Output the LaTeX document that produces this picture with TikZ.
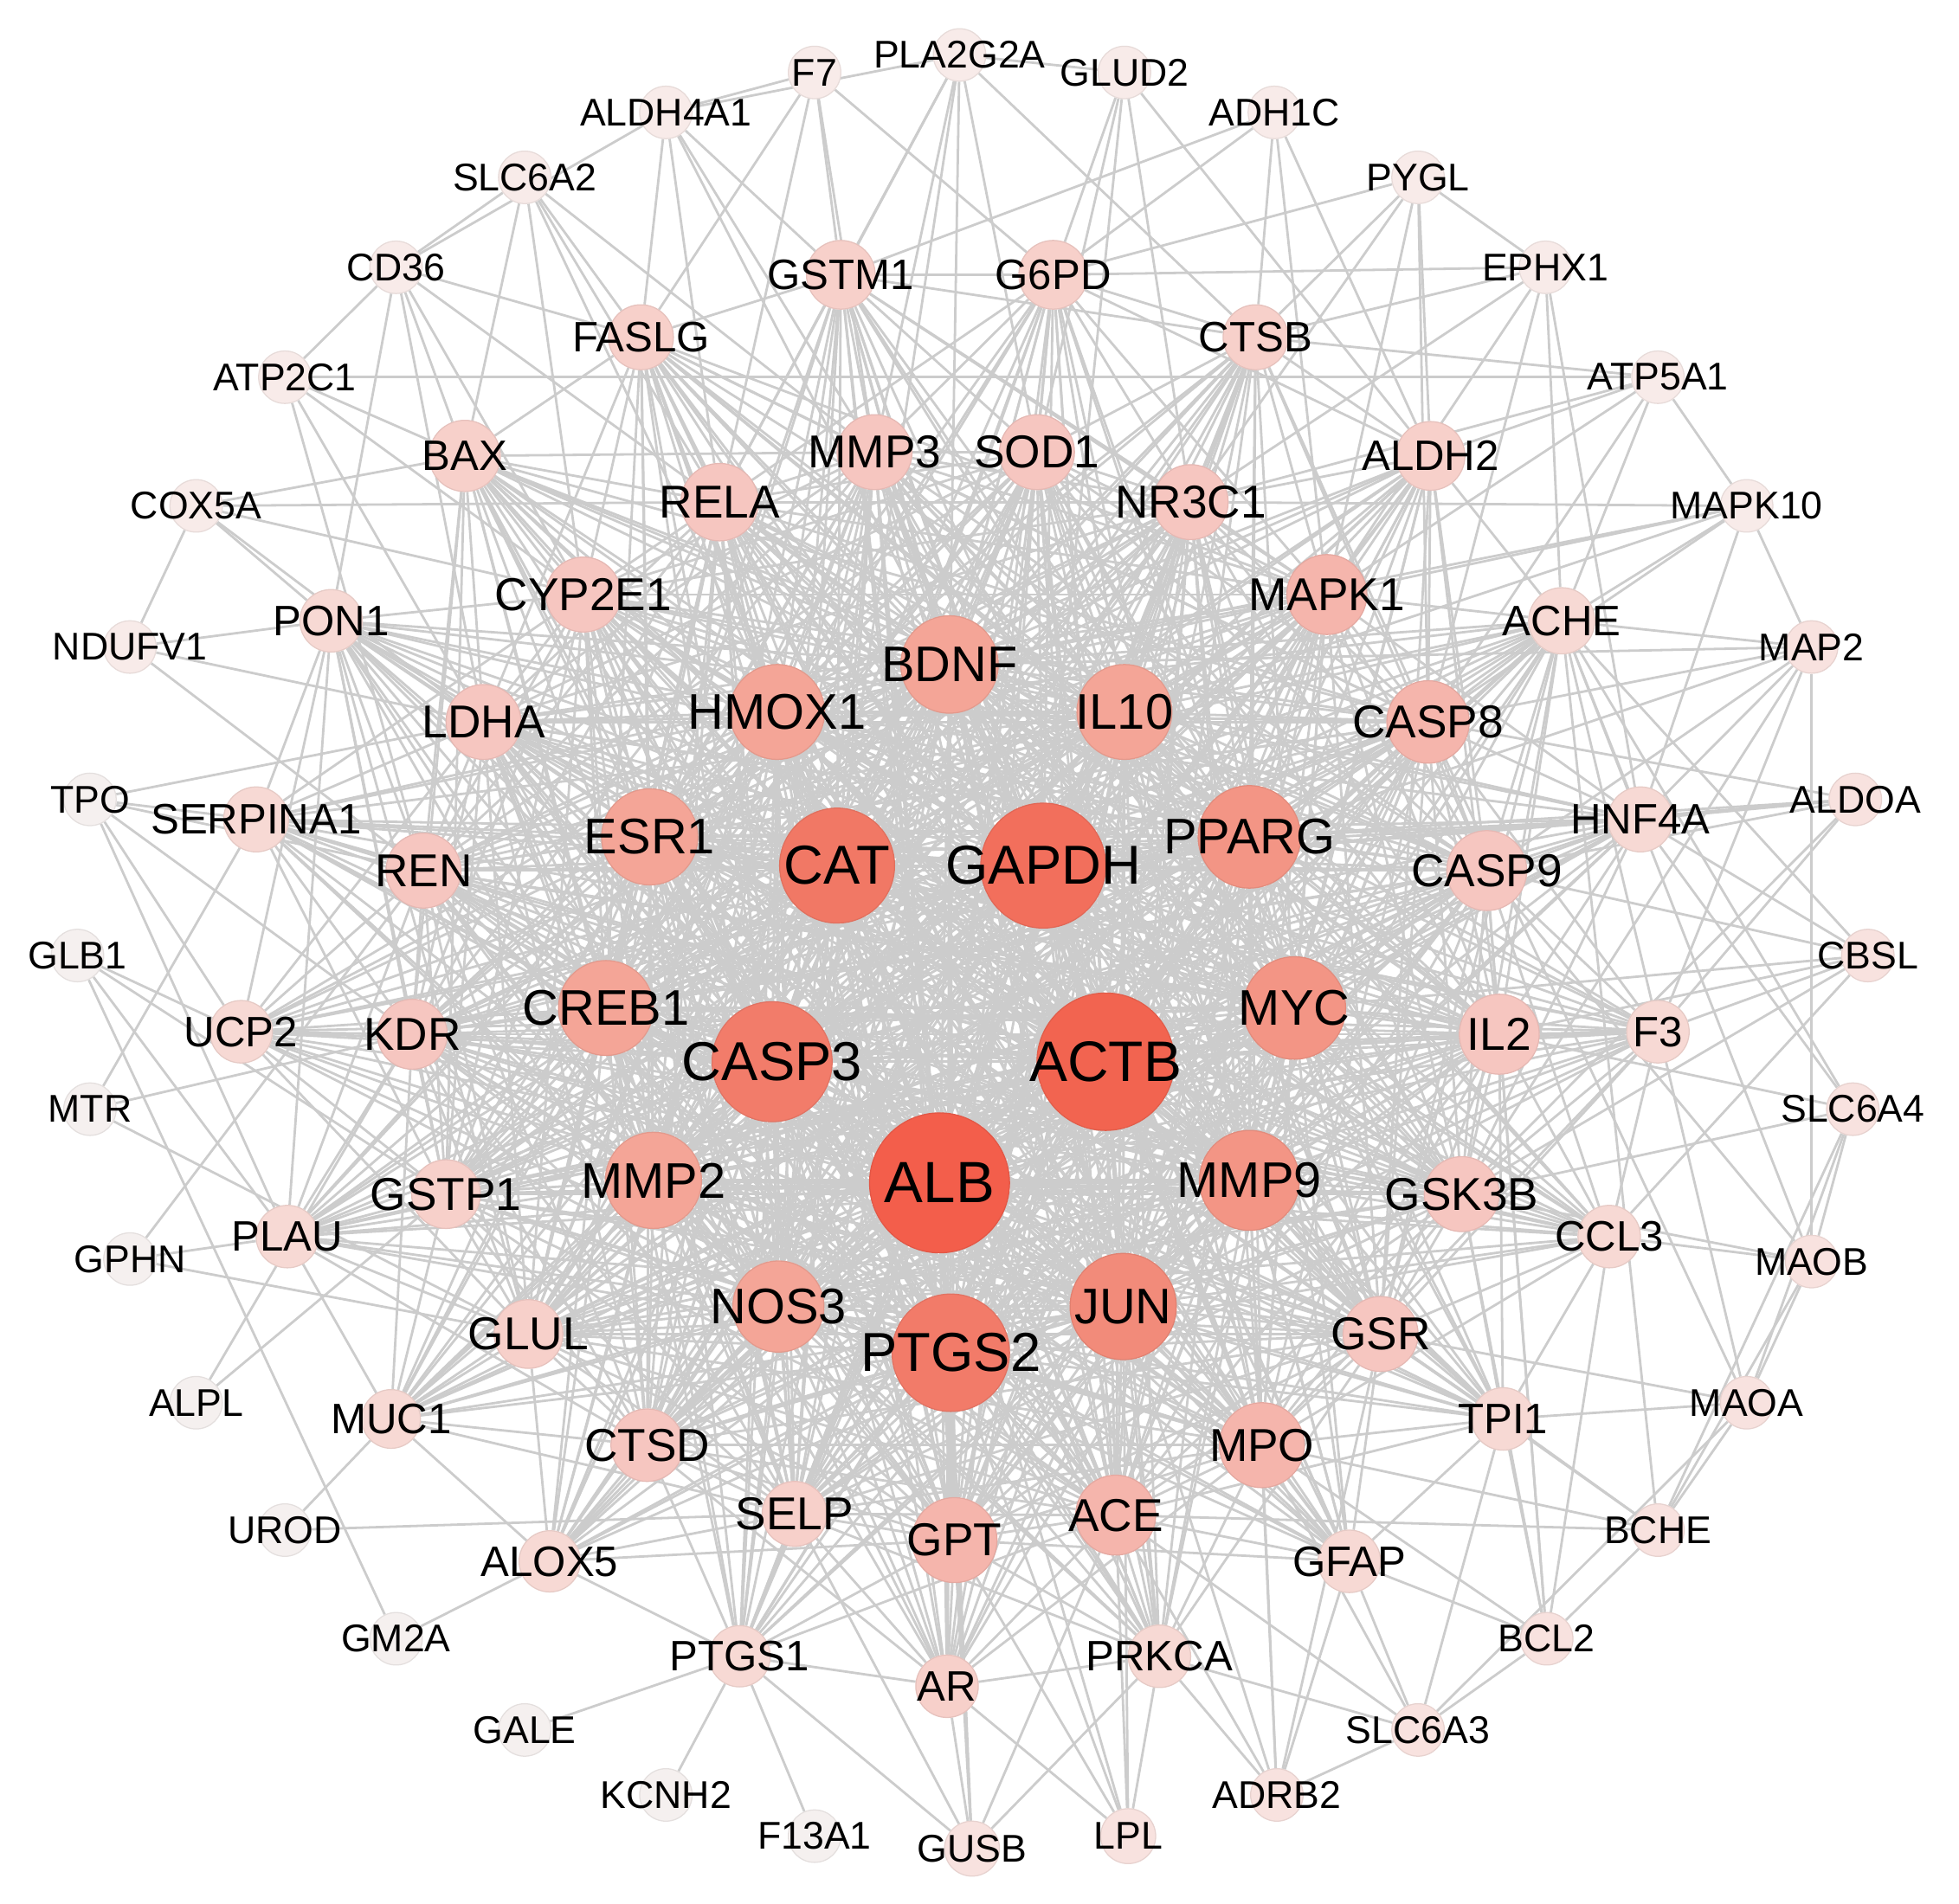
\documentclass[tikz,border=0pt]{standalone}
\usepackage{fontspec}
\setmainfont{Liberation Sans}
\pgfdeclarelayer{paper}
\pgfdeclarelayer{edges}
\pgfsetlayers{paper,edges,main}
\definecolor{edgegray}{HTML}{CCCCCC}
\definecolor{oA}{HTML}{F5F0EF}
\definecolor{oB}{HTML}{F8EBE9}
\definecolor{oC}{HTML}{F8E2DF}
\definecolor{sA}{HTML}{F7D9D4}
\definecolor{sB}{HTML}{F7D0CA}
\definecolor{tA}{HTML}{F6C6C0}
\definecolor{tB}{HTML}{F5B5AC}
\definecolor{tC}{HTML}{F7D0CA}
\definecolor{iA}{HTML}{F4A597}
\definecolor{iB}{HTML}{F39585}
\definecolor{iC}{HTML}{F28B7A}
\definecolor{kCAT}{HTML}{F17865}
\definecolor{kGAPDH}{HTML}{F26F5C}
\definecolor{kCASP}{HTML}{F27C6A}
\definecolor{kACTB}{HTML}{F26450}
\definecolor{kALB}{HTML}{F35E4B}
\definecolor{kPTGS}{HTML}{F27B69}
\tikzset{
  gene/.style={circle, inner sep=0pt, line width=0.5pt},
  edge/.style={draw=edgegray, line width=1.1pt},
}
\newcommand\genenode[6]{\node[gene, minimum size=#4*0.02cm, fill=#5, draw=#5!93!black,
  label={[text=black, inner sep=0pt, font=\fontsize{#6pt}{#6pt}\selectfont]center:#1}] (#1) at (#2,#3) {};}
\newcommand\corelist{ALB,ACTB,GAPDH,CAT,CASP3,PTGS2}
\newcommand\innerlist{BDNF,HMOX1,IL10,ESR1,PPARG,CREB1,MYC,MMP2,MMP9,NOS3,JUN}
\newcommand\thirdlist{MMP3,SOD1,RELA,NR3C1,CYP2E1,MAPK1,LDHA,CASP8,REN,CASP9,KDR,IL2,GSTP1,GSK3B,GLUL,GSR,CTSD,MPO,SELP,GPT,ACE}
\newcommand\secondlist{GSTM1,G6PD,FASLG,CTSB,BAX,ALDH2,PON1,ACHE,SERPINA1,HNF4A,UCP2,F3,PLAU,CCL3,MUC1,TPI1,ALOX5,GFAP,PTGS1,PRKCA,AR}
\begin{document}
\begin{tikzpicture}[x=0.02cm,y=-0.02cm]
\begin{pgfonlayer}{paper}
\fill[white] (0,0) rectangle (1568,1524);
\end{pgfonlayer}
\useasboundingbox (0,0) rectangle (1568,1524);
% outer ring
\genenode{F7}{652}{58}{42}{oB}{17.6}
\genenode{PLA2G2A}{768}{44}{42}{oB}{17.6}
\genenode{GLUD2}{900}{58}{42}{oB}{17.6}
\genenode{ALDH4A1}{533}{90}{42}{oB}{17.6}
\genenode{ADH1C}{1020}{90}{42}{oB}{17.6}
\genenode{SLC6A2}{420}{142}{42}{oB}{17.6}
\genenode{PYGL}{1135}{142}{42}{oB}{17.6}
\genenode{CD36}{317}{214}{42}{oB}{17.6}
\genenode{EPHX1}{1237}{214}{42}{oB}{17.6}
\genenode{ATP2C1}{228}{302}{42}{oB}{17.6}
\genenode{ATP5A1}{1327}{302}{42}{oB}{17.6}
\genenode{COX5A}{157}{405}{42}{oB}{17.6}
\genenode{MAPK10}{1398}{405}{42}{oB}{17.6}
\genenode{NDUFV1}{104}{518}{42}{oB}{17.6}
\genenode{MAP2}{1450}{518}{42}{oC}{17.6}
\genenode{TPO}{72}{640}{42}{oA}{17.6}
\genenode{ALDOA}{1485}{640}{42}{oC}{17.6}
\genenode{GLB1}{62}{765}{42}{oA}{17.6}
\genenode{CBSL}{1495}{765}{42}{oC}{17.6}
\genenode{MTR}{72}{888}{42}{oA}{17.6}
\genenode{SLC6A4}{1483}{888}{42}{oC}{17.6}
\genenode{GPHN}{104}{1008}{42}{oA}{17.6}
\genenode{MAOB}{1450}{1010}{42}{oC}{17.6}
\genenode{ALPL}{157}{1123}{42}{oA}{17.6}
\genenode{MAOA}{1398}{1123}{42}{oC}{17.6}
\genenode{UROD}{228}{1225}{42}{oA}{17.6}
\genenode{BCHE}{1327}{1225}{42}{oC}{17.6}
\genenode{GM2A}{317}{1312}{42}{oA}{17.6}
\genenode{BCL2}{1238}{1312}{42}{oC}{17.6}
\genenode{GALE}{420}{1385}{42}{oA}{17.6}
\genenode{SLC6A3}{1135}{1385}{42}{oC}{17.6}
\genenode{KCNH2}{533}{1437}{42}{oA}{17.6}
\genenode{ADRB2}{1022}{1437}{42}{oC}{17.6}
\genenode{F13A1}{652}{1470}{42}{oA}{17.6}
\genenode{LPL}{903}{1470}{44}{oC}{17.6}
\genenode{GUSB}{778}{1480}{44}{oC}{17.6}
% second ring
\genenode{GSTM1}{673}{220}{55}{sB}{19.4}
\genenode{G6PD}{843}{220}{55}{sB}{19.4}
\genenode{FASLG}{513}{270}{52}{sB}{19.4}
\genenode{CTSB}{1005}{270}{52}{sB}{19.4}
\genenode{BAX}{372}{365}{57}{sB}{19.4}
\genenode{ALDH2}{1145}{365}{55}{sB}{19.4}
\genenode{PON1}{265}{497}{50}{sA}{19.4}
\genenode{ACHE}{1250}{497}{53}{sA}{19.4}
\genenode{SERPINA1}{205}{656}{52}{sA}{19.4}
\genenode{HNF4A}{1313}{656}{52}{sA}{19.4}
\genenode{UCP2}{193}{826}{50}{sA}{19.4}
\genenode{F3}{1327}{826}{50}{sA}{19.4}
\genenode{PLAU}{230}{990}{50}{sA}{19.4}
\genenode{CCL3}{1288}{990}{50}{sA}{19.4}
\genenode{MUC1}{313}{1136}{47}{sA}{19.4}
\genenode{TPI1}{1203}{1136}{50}{sA}{19.4}
\genenode{ALOX5}{440}{1250}{49}{sA}{19.4}
\genenode{GFAP}{1080}{1250}{50}{sA}{19.4}
\genenode{PTGS1}{592}{1326}{49}{sA}{19.4}
\genenode{PRKCA}{928}{1326}{50}{sA}{19.4}
\genenode{AR}{758}{1350}{50}{sB}{19.4}
% third ring
\genenode{MMP3}{700}{362}{60}{tA}{21}
\genenode{SOD1}{830}{362}{60}{tA}{21}
\genenode{RELA}{576}{402}{62}{tA}{21}
\genenode{NR3C1}{953}{402}{60}{tA}{21}
\genenode{CYP2E1}{467}{476}{60}{tA}{21}
\genenode{MAPK1}{1062}{476}{64}{tB}{21}
\genenode{LDHA}{387}{578}{60}{tA}{21}
\genenode{CASP8}{1143}{578}{66}{tB}{21}
\genenode{REN}{339}{697}{60}{tA}{21}
\genenode{CASP9}{1190}{697}{64}{tA}{21}
\genenode{KDR}{330}{828}{56}{tA}{21}
\genenode{IL2}{1200}{828}{64}{tA}{21}
\genenode{GSTP1}{357}{956}{55}{tC}{21}
\genenode{GSK3B}{1170}{956}{60}{tA}{21}
\genenode{GLUL}{423}{1068}{55}{tC}{21}
\genenode{GSR}{1105}{1068}{60}{tA}{21}
\genenode{CTSD}{518}{1157}{58}{tA}{21}
\genenode{MPO}{1010}{1157}{68}{tB}{21}
\genenode{SELP}{636}{1212}{52}{tC}{21}
\genenode{GPT}{764}{1233}{68}{tB}{21}
\genenode{ACE}{893}{1213}{64}{tB}{21}
% inner ring
\genenode{BDNF}{760}{532}{78}{iA}{22.8}
\genenode{HMOX1}{622}{570}{76}{iA}{22.8}
\genenode{IL10}{900}{570}{76}{iA}{22.8}
\genenode{ESR1}{520}{670}{77}{iA}{22.8}
\genenode{PPARG}{1000}{670}{82}{iB}{22.8}
\genenode{CREB1}{485}{807}{76}{iA}{22.8}
\genenode{MYC}{1036}{807}{82}{iB}{22.8}
\genenode{MMP2}{523}{945}{77}{iA}{22.8}
\genenode{MMP9}{1000}{945}{80}{iB}{22.8}
\genenode{NOS3}{623}{1046}{73}{iA}{22.8}
\genenode{JUN}{899}{1046}{85}{iC}{22.8}
% core
\genenode{CAT}{670}{693}{92}{kCAT}{25}
\genenode{GAPDH}{835}{693}{100}{kGAPDH}{25}
\genenode{CASP3}{618}{850}{96}{kCASP}{25}
\genenode{ACTB}{885}{850}{110}{kACTB}{26}
\genenode{ALB}{752}{947}{112}{kALB}{26.5}
\genenode{PTGS2}{761}{1083}{94}{kPTGS}{25}

\begin{pgfonlayer}{edges}
% core among themselves
\foreach \a [count=\i] in \corelist {
  \foreach \b [count=\j] in \corelist {
    \ifnum\j>\i \draw[edge] (\a) -- (\b); \fi }}
% core to inner, third and second rings
\foreach \a in \corelist {
  \foreach \b in \innerlist { \draw[edge] (\a) -- (\b); }
  \foreach \b in \thirdlist { \draw[edge] (\a) -- (\b); }
  \foreach \b in \secondlist { \draw[edge] (\a) -- (\b); }}
% inner among themselves
\foreach \a [count=\i] in \innerlist {
  \foreach \b [count=\j] in \innerlist {
    \ifnum\j>\i \draw[edge] (\a) -- (\b); \fi }}
% inner to third and second rings
\foreach \a in \innerlist {
  \foreach \b in \thirdlist { \draw[edge] (\a) -- (\b); }
  \foreach \b in \secondlist { \draw[edge] (\a) -- (\b); }}
% third ring among themselves
\foreach \a [count=\i] in \thirdlist {
  \foreach \b [count=\j] in \thirdlist {
    \ifnum\j>\i \draw[edge] (\a) -- (\b); \fi }}
% explicit adjacency lists
\foreach \a/\bs in {
  GSTM1/{MMP3,SOD1,RELA,NR3C1,MAPK1,G6PD,FASLG,CTSB},
  G6PD/{SOD1,MMP3,NR3C1,MAPK1,RELA,CTSB,ALDH2},
  FASLG/{RELA,MMP3,CYP2E1,BAX,LDHA,CASP8,CASP9,IL2,MAPK1},
  CTSB/{NR3C1,MAPK1,SOD1,ALDH2,CASP8,CASP9,CTSD},
  BAX/{RELA,CYP2E1,LDHA,REN,CASP8,CASP9,GSTP1,KDR,MMP3},
  ALDH2/{MAPK1,NR3C1,CASP8,CASP9,ACHE,IL2,GSR},
  PON1/{CYP2E1,LDHA,REN,KDR,GSTP1,SERPINA1,GLUL,UCP2,PLAU},
  ACHE/{CASP8,CASP9,HNF4A,IL2,MAPK1,GSK3B,GSR},
  SERPINA1/{REN,KDR,LDHA,GSTP1,CYP2E1},
  HNF4A/{CASP9,CASP8,IL2,GSK3B,MAPK1},
  UCP2/{KDR,REN,GSTP1,LDHA,GLUL},
  F3/{IL2,CASP9,CASP8,GSK3B,CCL3,MPO,GSR},
  PLAU/{KDR,GSTP1,REN,GLUL,MUC1,CTSD},
  CCL3/{IL2,GSK3B,GSR,MPO,CASP9},
  MUC1/{GLUL,GSTP1,CTSD,ALOX5,SELP,KDR},
  TPI1/{GSR,MPO,GSK3B,IL2,ACE,CCL3},
  ALOX5/{CTSD,SELP,GLUL,GPT,PTGS1},
  GFAP/{MPO,ACE,GSR,GPT,TPI1},
  PTGS1/{SELP,CTSD,GPT,ACE,AR},
  PRKCA/{ACE,MPO,GPT,SELP,GSR,AR},
  AR/{GPT,ACE,SELP,CTSD,MPO},
  F7/{ALDH4A1,FASLG,GSTM1,MMP3,G6PD,RELA},
  PLA2G2A/{ALDH4A1,GSTM1,MMP3,SOD1,BDNF,CAT,CTSB,RELA,GLUD2},
  GLUD2/{G6PD,SOD1,ALDH2,NR3C1,GAPDH},
  ADH1C/{G6PD,GSTM1,ALDH2,CTSB,MAPK1},
  PYGL/{G6PD,CTSB,NR3C1,MAPK1,ALDH2,EPHX1,CASP8},
  EPHX1/{G6PD,CTSB,NR3C1,MAPK1,ACHE,CASP8,HNF4A},
  ATP5A1/{ATP2C1,ALDH2,MAPK1,NR3C1,MAPK10,ACHE,CASP8,CTSB},
  MAPK10/{NR3C1,MAPK1,CASP8,IL10,BDNF,MAP2,HNF4A,ACHE},
  MAP2/{ACHE,CASP8,PPARG,CASP9,BDNF,HNF4A,F3,GSK3B},
  ALDOA/{HNF4A,CASP9,PPARG,GAPDH,F3,CASP8,GSK3B},
  CBSL/{F3,IL2,MYC,CASP9,HNF4A,GSK3B,CCL3,ACHE},
  SLC6A4/{MAOB,MAOA,BCHE,HNF4A,ACHE,GSK3B,IL2},
  MAOB/{MAOA,CCL3,ACHE,MAP2,GSK3B,BCHE,CASP9},
  MAOA/{BCHE,ACHE,TPI1,GSR,CASP8},
  BCHE/{ACE,BCL2,ACHE,TPI1,MPO,GSR},
  BCL2/{SLC6A3,GFAP,TPI1,CCL3,MPO,GSK3B,IL2,CASP9},
  SLC6A3/{ADRB2,PRKCA,GFAP,MPO,ACE,TPI1,MAOA},
  ADRB2/{PRKCA,ACE,MPO,GFAP,GSR,JUN,MMP9},
  LPL/{PRKCA,ACE,GPT,AR,ALB,PTGS2,JUN},
  GUSB/{AR,GPT,PTGS2,ALB,PTGS1,PRKCA,SELP,ACE},
  F13A1/{PTGS1},
  KCNH2/{PTGS1},
  GALE/{PTGS1},
  GM2A/{ALOX5,GLB1},
  UROD/{MUC1,SELP},
  ALPL/{KDR,GSTP1},
  GPHN/{REN,GLUL,PLAU},
  MTR/{KDR,SERPINA1,GLUL},
  GLB1/{UCP2,GSTP1,PLAU},
  TPO/{SERPINA1,REN,LDHA,UCP2,PLAU,KDR},
  NDUFV1/{COX5A,PON1,REN,LDHA},
  COX5A/{RELA,PON1,CYP2E1,LDHA,BAX},
  ATP2C1/{CD36,CYP2E1,LDHA,REN,BAX},
  CD36/{ALDH4A1,PON1,BAX,LDHA,CYP2E1,RELA,FASLG},
  SLC6A2/{FASLG,RELA,MMP3,CYP2E1,HMOX1,BAX,CD36},
  ALDH4A1/{FASLG,RELA,MMP3,GSTM1,BDNF}} {
  \foreach \b in \bs { \draw[edge] (\a) -- (\b); }}
\end{pgfonlayer}
\end{tikzpicture}
\end{document}
